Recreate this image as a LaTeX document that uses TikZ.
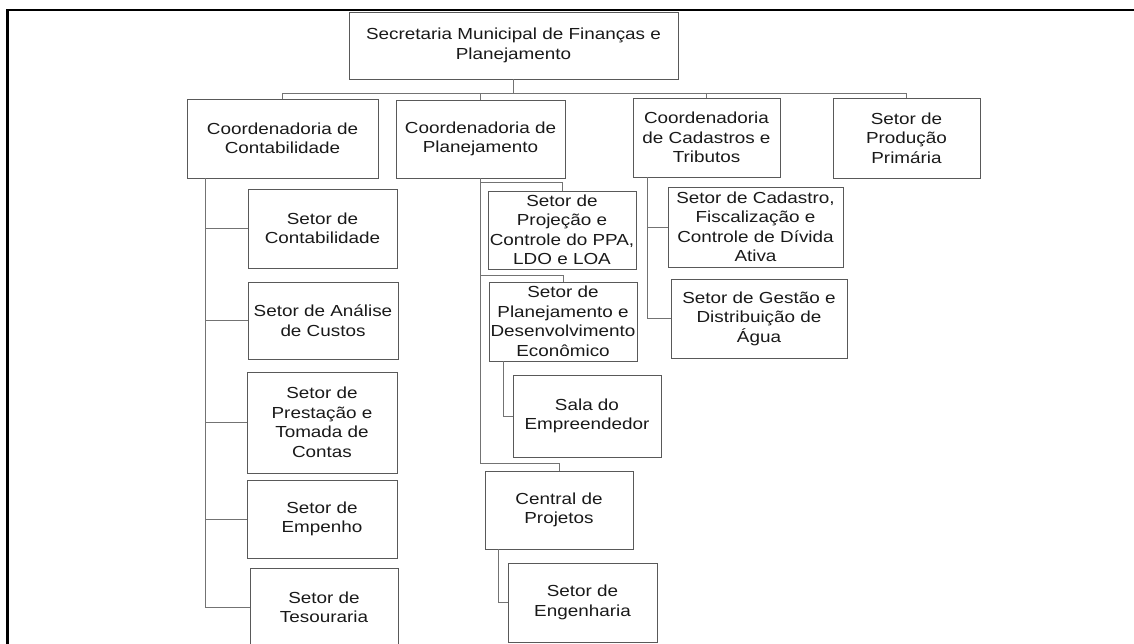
\documentclass[tikz,border=0pt]{standalone}
\usepackage{fontspec}
\setmainfont{Liberation Sans}[FakeStretch=1.18]
\usetikzlibrary{calc}
\begin{document}
\begin{tikzpicture}[x=1pt,y=-1pt,
  box/.style={draw=black!65, line width=0.9pt, align=center, inner sep=1pt,
    text=black!90, font=\fontsize{16}{19.5}\selectfont},
  link/.style={draw=black!55, line width=0.9pt},
  frame/.style={draw=black, line width=2.4pt}]
\useasboundingbox (0,0) rectangle (1134,644);
\draw[frame] (7.5,650) -- (7.5,10) -- (1140,10);

% level 0
\node[box, minimum width=329pt, minimum height=67pt] (sec) at (513.5,45.5) {Secretaria Municipal de Finanças e\\Planejamento};
% level 1
\node[box, minimum width=191pt, minimum height=79pt] (cc) at (282.5,138.5) {Coordenadoria de\\Contabilidade};
\node[box, minimum width=169pt, minimum height=78pt] (cp) at (480.5,139) {Coordenadoria de\\Planejamento};
\node[box, minimum width=147pt, minimum height=79pt] (ccad) at (706.5,137.5) {Coordenadoria\\de Cadastros e\\Tributos};
\node[box, minimum width=147pt, minimum height=80pt] (spp) at (906.5,138) {Setor de\\Produção\\Primária};
% left column
\node[box, minimum width=149pt, minimum height=79pt] (s1) at (322.5,228.5) {Setor de\\Contabilidade};
\node[box, minimum width=150pt, minimum height=77pt] (s2) at (323,320.5) {Setor de Análise\\de Custos};
\node[box, minimum width=150pt, minimum height=101pt] (s3) at (322,422.5) {Setor de\\Prestação e\\Tomada de\\Contas};
\node[box, minimum width=150pt, minimum height=78pt] (s4) at (322,519) {Setor de\\Empenho};
\node[box, minimum width=148pt, minimum height=79pt] (s5) at (324,607.5) {Setor de\\Tesouraria};
% middle column
\node[box, minimum width=148pt, minimum height=78pt] (m1) at (562,230) {Setor de\\Projeção e\\Controle do PPA,\\LDO e LOA};
\node[box, minimum width=148pt, minimum height=79pt] (m2) at (563,321.5) {Setor de\\Planejamento e\\Desenvolvimento\\Econômico};
\node[box, minimum width=148pt, minimum height=82pt] (m3) at (587,416) {Sala do\\Empreendedor};
\node[box, minimum width=148pt, minimum height=78pt] (m4) at (559,510) {Central de\\Projetos};
\node[box, minimum width=149pt, minimum height=79pt] (m5) at (582.5,602.5) {Setor de\\Engenharia};
% right column
\node[box, minimum width=175pt, minimum height=80pt] (r1) at (755.5,227) {Setor de Cadastro,\\Fiscalização e\\Controle de Dívida\\Ativa};
\node[box, minimum width=176pt, minimum height=79pt] (r2) at (759,318.5) {Setor de Gestão e\\Distribuição de\\Água};

% top connectors
\draw[link] (sec.south) -- ++(0,14) coordinate (bus);
\draw[link] (cc.north) -- (cc.north |- bus) -- (spp.north |- bus) -- (spp.north);
\draw[link] (cp.north) -- (cp.north |- bus);
\draw[link] (ccad.north) -- (ccad.north |- bus);

% left column connectors
\coordinate (lt) at ([xshift=19pt]cc.south west);
\draw[link] (lt) |- (s1.west);
\draw[link] (lt) |- (s2.west);
\draw[link] (lt) |- (s3.west);
\draw[link] (lt) |- (s4.west);
\draw[link] (lt) |- (s5.west);

% middle column connectors
\draw[link] (cp.south) |- ([yshift=8pt]m1.north) -- (m1.north);
\draw[link] (cp.south) |- ([yshift=6pt]m2.north) -- (m2.north);
\draw[link] (cp.south) |- ([yshift=7pt]m4.north) -- (m4.north);
\draw[link] ([xshift=15pt]m2.south west) |- (m3.west);
\draw[link] ([xshift=14pt]m4.south west) |- (m5.west);

% right column connectors
\coordinate (rt) at ([xshift=15pt]ccad.south west);
\draw[link] (rt) |- (r1.west);
\draw[link] (rt) |- (r2.west);
\end{tikzpicture}
\end{document}
